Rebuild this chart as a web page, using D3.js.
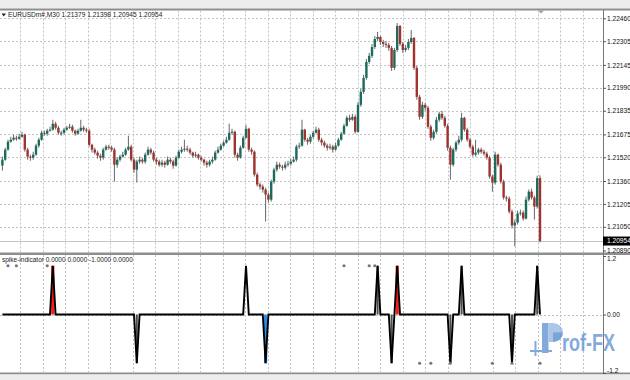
<!DOCTYPE html>
<meta charset="utf-8">
<script src="https://d3js.org/d3.v7.min.js"></script>
<style>
  body { margin: 0; background: #fff; }
  svg text { font-family: "Liberation Sans", Arial, sans-serif; }
</style>
<body>
<div id="chart"></div>
<script>
// EURUSD M30 candles
var symbol = "EURUSDm#,M30";
var opens = [1.21464,1.21504,1.21572,1.21626,1.21639,1.21652,1.21646,1.21659,1.21673,1.21572,
1.21525,1.21518,1.21538,1.21599,1.21639,1.21686,1.21680,1.21700,1.21707,1.21747,
1.21720,1.21686,1.21686,1.21707,1.21720,1.21727,1.21700,1.21680,1.21700,1.21720,
1.21707,1.21700,1.21605,1.21572,1.21552,1.21531,1.21518,1.21572,1.21592,1.21585,
1.21572,1.21470,1.21504,1.21525,1.21538,1.21572,1.21592,1.21504,1.21437,1.21491,
1.21504,1.21491,1.21538,1.21572,1.21552,1.21504,1.21491,1.21470,1.21484,1.21470,
1.21504,1.21491,1.21464,1.21518,1.21558,1.21572,1.21578,1.21572,1.21552,1.21531,
1.21538,1.21518,1.21504,1.21484,1.21470,1.21491,1.21504,1.21552,1.21572,1.21599,
1.21619,1.21639,1.21686,1.21693,1.21538,1.21518,1.21585,1.21652,1.21713,1.21572,
1.21558,1.21403,1.21336,1.21322,1.21302,1.21268,1.21234,1.21356,1.21437,1.21470,
1.21457,1.21450,1.21470,1.21477,1.21491,1.21504,1.21592,1.21599,1.21707,1.21639,
1.21626,1.21659,1.21686,1.21707,1.21639,1.21619,1.21599,1.21585,1.21592,1.21572,
1.21599,1.21639,1.21680,1.21733,1.21787,1.21774,1.21794,1.21693,1.21875,1.21963,
1.22057,1.22165,1.22206,1.22266,1.22320,1.22334,1.22300,1.22287,1.22280,1.22260,
1.22125,1.22246,1.22408,1.22287,1.22246,1.22260,1.22300,1.22327,1.22125,1.21929,
1.21794,1.21875,1.21855,1.21727,1.21652,1.21693,1.21774,1.21814,1.21787,1.21733,
1.21585,1.21470,1.21572,1.21619,1.21639,1.21787,1.21707,1.21639,1.21592,1.21538,
1.21552,1.21572,1.21558,1.21545,1.21518,1.21390,1.21349,1.21538,1.21470,1.21356,
1.21248,1.21241,1.21153,1.21059,1.21079,1.21140,1.21146,1.21106,1.21234,1.21288,
1.21248,1.21187,1.21379];
var highs = [1.21525,1.21585,1.21639,1.21659,1.21673,1.21666,1.21680,1.21693,1.21680,1.21585,
1.21538,1.21558,1.21612,1.21652,1.21700,1.21700,1.21713,1.21727,1.21774,1.21760,
1.21733,1.21700,1.21720,1.21733,1.21747,1.21740,1.21707,1.21713,1.21774,1.21733,
1.21720,1.21713,1.21612,1.21585,1.21565,1.21545,1.21585,1.21605,1.21605,1.21599,
1.21585,1.21518,1.21538,1.21558,1.21585,1.21666,1.21605,1.21518,1.21504,1.21525,
1.21518,1.21552,1.21592,1.21585,1.21565,1.21518,1.21504,1.21504,1.21497,1.21525,
1.21518,1.21504,1.21531,1.21572,1.21592,1.21639,1.21599,1.21585,1.21558,1.21558,
1.21545,1.21531,1.21511,1.21497,1.21504,1.21525,1.21565,1.21592,1.21612,1.21632,
1.21659,1.21747,1.21713,1.21700,1.21552,1.21599,1.21666,1.21740,1.21720,1.21585,
1.21565,1.21416,1.21349,1.21336,1.21315,1.21281,1.21369,1.21450,1.21491,1.21484,
1.21470,1.21491,1.21497,1.21511,1.21525,1.21605,1.21619,1.21774,1.21713,1.21652,
1.21673,1.21700,1.21727,1.21720,1.21652,1.21632,1.21612,1.21612,1.21605,1.21619,
1.21652,1.21693,1.21747,1.21801,1.21808,1.21814,1.21808,1.21895,1.21983,1.22078,
1.22185,1.22226,1.22287,1.22341,1.22368,1.22341,1.22314,1.22307,1.22294,1.22273,
1.22260,1.22428,1.22415,1.22300,1.22280,1.22320,1.22381,1.22334,1.22138,1.21942,
1.21895,1.21888,1.21868,1.21740,1.21707,1.21794,1.21828,1.21835,1.21801,1.21747,
1.21599,1.21585,1.21632,1.21666,1.21821,1.21794,1.21720,1.21652,1.21605,1.21639,
1.21585,1.21585,1.21572,1.21558,1.21531,1.21403,1.21558,1.21545,1.21484,1.21369,
1.21261,1.21255,1.21167,1.21099,1.21160,1.21167,1.21160,1.21255,1.21302,1.21308,
1.21261,1.21396,1.21398];
var lows = [1.21430,1.21497,1.21565,1.21619,1.21632,1.21632,1.21639,1.21652,1.21558,1.21504,
1.21497,1.21504,1.21531,1.21585,1.21632,1.21666,1.21666,1.21693,1.21700,1.21707,
1.21673,1.21666,1.21673,1.21700,1.21713,1.21686,1.21666,1.21673,1.21693,1.21693,
1.21686,1.21592,1.21552,1.21538,1.21511,1.21497,1.21504,1.21565,1.21572,1.21558,
1.21356,1.21450,1.21491,1.21518,1.21531,1.21565,1.21491,1.21416,1.21349,1.21477,
1.21477,1.21477,1.21531,1.21538,1.21491,1.21470,1.21457,1.21457,1.21450,1.21464,
1.21477,1.21443,1.21457,1.21511,1.21545,1.21558,1.21558,1.21538,1.21518,1.21518,
1.21504,1.21491,1.21464,1.21450,1.21457,1.21477,1.21497,1.21545,1.21565,1.21592,
1.21612,1.21632,1.21673,1.21518,1.21497,1.21511,1.21578,1.21646,1.21558,1.21538,
1.21390,1.21322,1.21302,1.21281,1.21086,1.21214,1.21221,1.21342,1.21423,1.21443,
1.21430,1.21437,1.21457,1.21464,1.21484,1.21491,1.21578,1.21592,1.21626,1.21605,
1.21612,1.21646,1.21680,1.21626,1.21599,1.21585,1.21565,1.21572,1.21552,1.21565,
1.21592,1.21632,1.21673,1.21727,1.21760,1.21767,1.21680,1.21686,1.21862,1.21949,
1.22044,1.22152,1.22192,1.22253,1.22307,1.22280,1.22266,1.22260,1.22240,1.22104,
1.22111,1.22233,1.22273,1.22226,1.22233,1.22246,1.22287,1.22111,1.21909,1.21774,
1.21780,1.21835,1.21713,1.21632,1.21639,1.21680,1.21760,1.21774,1.21720,1.21565,
1.21369,1.21457,1.21558,1.21605,1.21626,1.21693,1.21626,1.21578,1.21525,1.21525,
1.21538,1.21545,1.21531,1.21504,1.21376,1.21288,1.21336,1.21457,1.21342,1.21234,
1.21221,1.21140,1.21039,1.20917,1.21065,1.21126,1.21092,1.21099,1.21221,1.21234,
1.21099,1.21173,1.20945];
var closes = [1.21504,1.21572,1.21626,1.21639,1.21652,1.21646,1.21659,1.21673,1.21572,1.21525,
1.21518,1.21538,1.21599,1.21639,1.21686,1.21680,1.21700,1.21707,1.21747,1.21720,
1.21686,1.21686,1.21707,1.21720,1.21727,1.21700,1.21680,1.21700,1.21720,1.21707,
1.21700,1.21605,1.21572,1.21552,1.21531,1.21518,1.21572,1.21592,1.21585,1.21572,
1.21470,1.21504,1.21525,1.21538,1.21572,1.21592,1.21504,1.21437,1.21491,1.21504,
1.21491,1.21538,1.21572,1.21552,1.21504,1.21491,1.21470,1.21484,1.21470,1.21504,
1.21491,1.21464,1.21518,1.21558,1.21572,1.21578,1.21572,1.21552,1.21531,1.21538,
1.21518,1.21504,1.21484,1.21470,1.21491,1.21504,1.21552,1.21572,1.21599,1.21619,
1.21639,1.21686,1.21693,1.21538,1.21518,1.21585,1.21652,1.21713,1.21572,1.21558,
1.21403,1.21336,1.21322,1.21302,1.21268,1.21234,1.21356,1.21437,1.21470,1.21457,
1.21450,1.21470,1.21477,1.21491,1.21504,1.21592,1.21599,1.21707,1.21639,1.21626,
1.21659,1.21686,1.21707,1.21639,1.21619,1.21599,1.21585,1.21592,1.21572,1.21599,
1.21639,1.21680,1.21733,1.21787,1.21774,1.21794,1.21693,1.21875,1.21963,1.22057,
1.22165,1.22206,1.22266,1.22320,1.22334,1.22300,1.22287,1.22280,1.22260,1.22125,
1.22246,1.22408,1.22287,1.22246,1.22260,1.22300,1.22327,1.22125,1.21929,1.21794,
1.21875,1.21855,1.21727,1.21652,1.21693,1.21774,1.21814,1.21787,1.21733,1.21585,
1.21470,1.21572,1.21619,1.21639,1.21787,1.21707,1.21639,1.21592,1.21538,1.21552,
1.21572,1.21558,1.21545,1.21518,1.21390,1.21349,1.21538,1.21470,1.21356,1.21248,
1.21241,1.21153,1.21059,1.21079,1.21140,1.21146,1.21106,1.21234,1.21288,1.21248,
1.21187,1.21379,1.20954];

// price scale labels on the right
var priceTicks = [1.22460,1.22305,1.22145,1.21990,1.21835,1.21675,1.21520,1.21360,1.21205,1.21050,1.20890];

// spike-indicator: bars with a spike, its value and its buffer
var spikeBars   = [18, 48, 87, 94, 134, 139, 141, 160, 164, 182, 191];
var spikeValues = [1, -1, 1, -1, 1, -1, 1, -1, 1, -1, 1];
var spikeKind   = ["sell", "weak", "none", "buy", "weak", "weak", "sell", "weak", "weak", "weak", "weak"];
var dotBarsTop    = [2, 5, 16, 122, 131, 133];
var dotBarsBottom = [149, 153, 160, 175, 182, 192];
var indName = "spike-indicator";
var indBuffers = [0, 0, -1, 0];
var indTicks = [1.2, 0, -1.2];
var indTickLabels = ["1.2", "0.00", "-1.2"];

var width = 630, height = 380, axisX = 603;
var svg = d3.select("#chart").append("svg")
  .attr("width", width).attr("height", height);

var x = d3.scaleLinear().domain([0, closes.length - 1]).range([2.4, 540]);
var y = d3.scaleLinear().domain([1.20890, 1.22460]).range([250.5, 18.3]);
var y2 = d3.scaleLinear().domain([-1.2, 1.2]).range([373, 256]);

// frame
svg.append("rect").attr("width", width).attr("height", height).attr("fill", "#fff");
svg.append("rect").attr("width", width).attr("height", 8.5).attr("fill", "#ededed");
svg.append("rect").attr("y", 8.5).attr("width", width).attr("height", 2).attr("fill", "#8e8e8e");
svg.append("rect").attr("y", 252.5).attr("width", width).attr("height", 2.5).attr("fill", "#8e8e8e");
svg.append("rect").attr("y", 372.5).attr("width", width).attr("height", 2).attr("fill", "#8e8e8e");
svg.append("rect").attr("y", 374.5).attr("width", width).attr("height", 6).attr("fill", "#ededed");

// grid
var grid = svg.append("g").attr("stroke", "#c2c2c2").attr("stroke-dasharray", "2,2");
d3.range(20, axisX, 22.5).forEach(function (gx) {
  var px = Math.round(gx) + 0.5;
  grid.append("line").attr("x1", px).attr("x2", px).attr("y1", 10.5).attr("y2", 252.5);
  grid.append("line").attr("x1", px).attr("x2", px).attr("y1", 255).attr("y2", 372.5);
});
priceTicks.slice(0, -1).forEach(function (t) {
  var py = Math.round(y(t)) + 0.5;
  grid.append("line").attr("x1", 0).attr("x2", axisX).attr("y1", py).attr("y2", py);
});
grid.append("line").attr("x1", 0).attr("x2", axisX)
  .attr("y1", Math.round(y2(0)) + 0.5).attr("y2", Math.round(y2(0)) + 0.5);

// bid line
var last = closes.length - 1;
svg.append("line").attr("x1", 0).attr("x2", axisX)
  .attr("y1", Math.round(y(closes[last])) + 0.5).attr("y2", Math.round(y(closes[last])) + 0.5)
  .attr("stroke", "#c4c4c4");

// candles
var bars = d3.range(closes.length);
var candles = svg.append("g");
candles.selectAll("line").data(bars).enter().append("line")
  .attr("x1", function (i) { return x(i); })
  .attr("x2", function (i) { return x(i); })
  .attr("y1", function (i) { return y(highs[i]); })
  .attr("y2", function (i) { return y(lows[i]); })
  .attr("stroke", "#666").attr("stroke-width", 1);
candles.selectAll("rect").data(bars).enter().append("rect")
  .attr("x", function (i) { return x(i) - 1.2; })
  .attr("width", 2.4)
  .attr("y", function (i) { return y(Math.max(opens[i], closes[i])); })
  .attr("height", function (i) { return Math.max(1, Math.abs(y(opens[i]) - y(closes[i]))); })
  .attr("fill", function (i) { return closes[i] >= opens[i] ? "#1d6b5c" : "#9e3330"; });

// price axis
svg.append("line").attr("x1", axisX + 0.5).attr("x2", axisX + 0.5).attr("y1", 10).attr("y2", 373)
  .attr("stroke", "#777");
var yAxis = svg.append("g").attr("transform", "translate(" + axisX + ",0)")
  .call(d3.axisRight(y).tickValues(priceTicks).tickSize(3).tickPadding(1).tickFormat(d3.format(".5f")));
yAxis.select(".domain").remove();
yAxis.selectAll("line").attr("stroke", "#555");
yAxis.selectAll("text").attr("font-size", 6.6).attr("fill", "#111").attr("font-family", null);

// current price box
svg.append("rect").attr("x", axisX).attr("y", y(closes[last]) - 4.5).attr("width", 27).attr("height", 9)
  .attr("fill", "#000");
svg.append("text").attr("x", axisX + 4).attr("y", y(closes[last]) + 2.4)
  .attr("font-size", 6.6).attr("fill", "#fff").text(d3.format(".5f")(closes[last]));

// indicator axis
var iAxis = svg.append("g").attr("transform", "translate(" + axisX + ",0)")
  .call(d3.axisRight(y2).tickValues(indTicks).tickSize(3).tickPadding(1)
    .tickFormat(function (d, i) { return indTickLabels[i]; }));
iAxis.select(".domain").remove();
iAxis.selectAll("line").attr("stroke", "#555");
iAxis.selectAll("text").attr("font-size", 6.6).attr("fill", "#111").attr("font-family", null)
  .attr("dy", function (d) { return d > 0 ? "0.75em" : d < 0 ? "-0.1em" : "0.32em"; });

// chart legend
svg.append("path").attr("d", "M1.5,13.5 L6,13.5 L3.75,16.5 Z").attr("fill", "#222");
svg.append("text").attr("x", 8).attr("y", 17.4).attr("font-size", 6.6).attr("fill", "#222")
  .text(symbol + "  " + [opens[last], highs[last], lows[last], closes[last]].map(d3.format(".5f")).join(" "));

// chart shift marker
svg.append("path").attr("d", "M538,10.5 L544,10.5 L541,13.5 Z").attr("fill", "#a0a0a0");

// indicator: histogram buffers
var kindColor = { sell: "#ff1a1a", buy: "#2b8fe8", weak: "#4d4d4d" };
var ind = svg.append("g");
spikeBars.forEach(function (b, k) {
  if (spikeKind[k] === "none") return;
  var v = spikeValues[k];
  ind.append("rect")
    .attr("x", x(b) - (spikeKind[k] === "weak" ? 1 : 1.6))
    .attr("width", spikeKind[k] === "weak" ? 2 : 3.2)
    .attr("y", Math.min(y2(0), y2(v)))
    .attr("height", Math.abs(y2(v) - y2(0)))
    .attr("fill", kindColor[spikeKind[k]]);
});

// indicator main line
var indSeries = bars.map(function (i) {
  var k = spikeBars.indexOf(i);
  return k < 0 ? 0 : spikeValues[k];
});
ind.append("path").datum(indSeries)
  .attr("fill", "none").attr("stroke", "#000").attr("stroke-width", 1.9)
  .attr("stroke-linejoin", "miter")
  .attr("d", d3.line().x(function (d, i) { return x(i); }).y(function (d) { return y2(d); }));

// arrow dots
ind.selectAll(".dt").data(dotBarsTop).enter().append("circle")
  .attr("cx", function (b) { return x(b); }).attr("cy", y2(1)).attr("r", 1.6).attr("fill", "#777");
ind.selectAll(".db").data(dotBarsBottom).enter().append("circle")
  .attr("cx", function (b) { return x(b); }).attr("cy", y2(-1)).attr("r", 1.6).attr("fill", "#777");

// indicator legend
svg.append("text").attr("x", 2).attr("y", 262).attr("font-size", 6.5).attr("fill", "#222")
  .text(indName + " " + indBuffers.map(function (v) { return v.toFixed(4); }).join(" "));

// watermark
var wm = svg.append("g").attr("fill", "#5b8ed1").attr("opacity", 0.75);
wm.append("rect").attr("x", 530).attr("y", 350).attr("width", 22).attr("height", 2);
wm.append("rect").attr("x", 534.5).attr("y", 341).attr("width", 2).attr("height", 15);
wm.append("rect").attr("x", 542).attr("y", 323).attr("width", 6.5).attr("height", 30);
wm.append("path").attr("d", "M548.5,323 L553,323 A10,9.5 0 0 1 553,342 L548.5,342 Z").attr("fill", "#8fb3e0");
wm.append("path").attr("d", "M553,332.5 L563,332.5 A10,9.5 0 0 1 553,342 Z").attr("fill", "#4f86cc");
wm.append("text").attr("x", 562).attr("y", 351).attr("font-size", 24).attr("font-weight", "bold")
  .attr("textLength", 53).attr("lengthAdjust", "spacingAndGlyphs").text("rof-FX");
</script>
</body>
